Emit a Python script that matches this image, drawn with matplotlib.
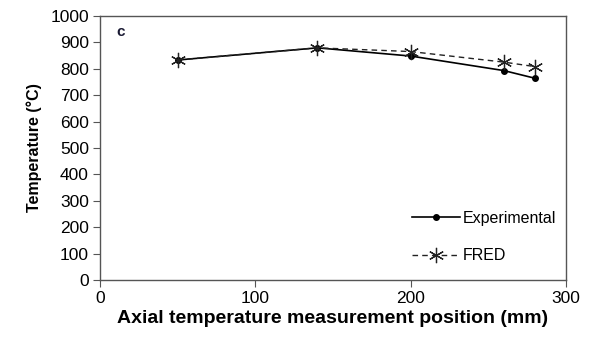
import matplotlib.pyplot as plt

plt.rcParams['font.family'] = ['Liberation Sans', 'DejaVu Sans']

position = [50, 140, 200, 260, 280]
experimental = [833, 879, 848, 793, 764]
fred = [833, 879, 865, 825, 808]

fig = plt.figure(figsize=(5.92, 3.45), dpi=100)
ax = fig.add_axes([0.169, 0.188, 0.787, 0.766])

ax.plot(position, experimental, color='black', lw=1.2, marker='o', ms=4,
        label='Experimental')
ax.plot(position, fred, color='#222222', lw=1.0, ls=(0, (4, 3)), marker=(6, 2, 0),
        ms=11, mew=0.9, label='FRED')

ax.set_xlim(0, 300)
ax.set_ylim(0, 1000)
ax.set_xticks([0, 100, 200, 300])
ax.set_yticks(range(0, 1001, 100))
ax.tick_params(direction='out', length=5, color='#555555', labelsize=12.5, pad=3)
for s in ax.spines.values():
    s.set_color('#555555')
    s.set_linewidth(1.0)

ax.set_xlabel('Axial temperature measurement position (mm)', fontsize=14,
              fontweight='bold', labelpad=3)
ax.set_ylabel('Temperature (°C)', fontsize=11.5, fontweight='bold', labelpad=6)

ax.text(0.035, 0.94, 'c', transform=ax.transAxes, fontsize=11,
        fontweight='bold', color='#1a1a33', va='center')

ax.legend(loc='lower right', bbox_to_anchor=(1.01, 0.01), frameon=False,
          fontsize=11.5, handlelength=3, labelspacing=1.4, handletextpad=0.2)

fig.savefig('out.png', dpi=100)
